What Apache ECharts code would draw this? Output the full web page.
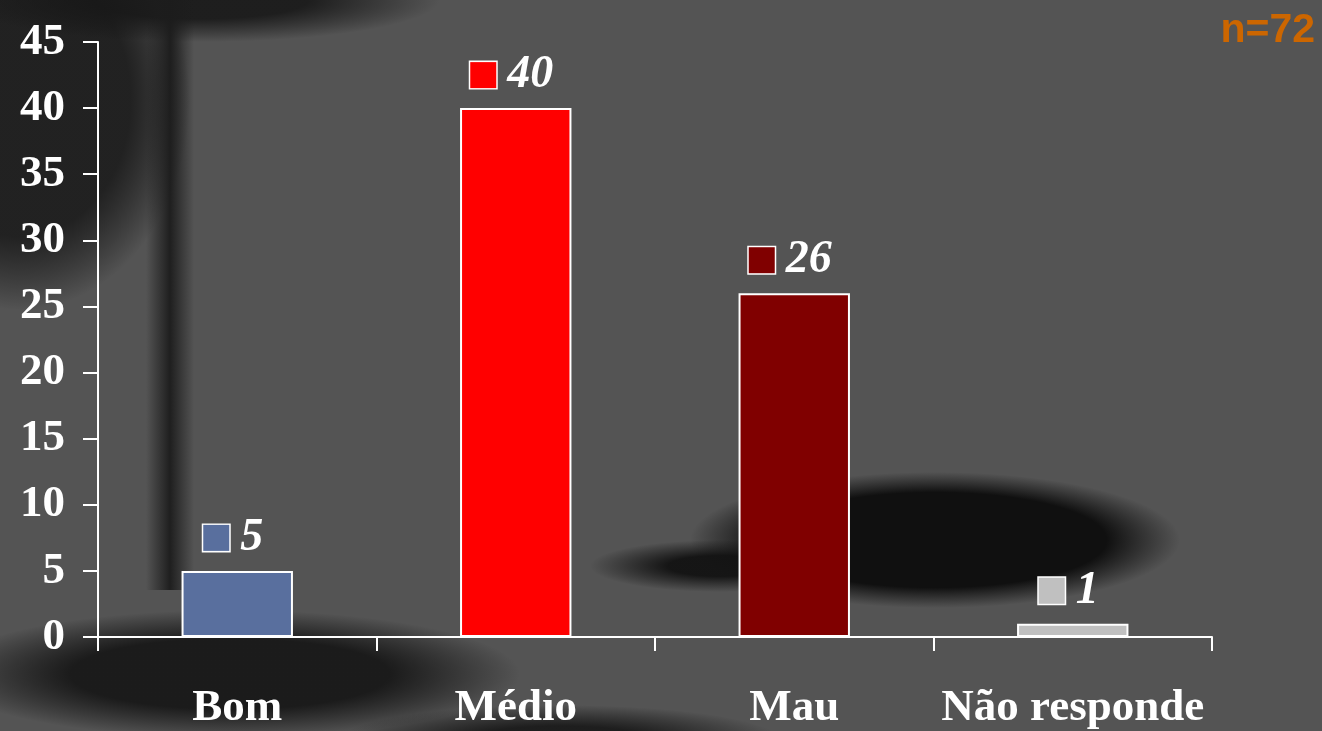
<!DOCTYPE html>
<html>
<head>
<meta charset="utf-8">
<script src="https://cdn.jsdelivr.net/npm/echarts@6/dist/echarts.min.js"></script>
<style>
html,body{margin:0;padding:0;background:#545454;}
#chart{width:1322px;height:731px;}
</style>
</head>
<body>
<div id="chart"></div>
<script>
const categories = ['Bom', 'Médio', 'Mau', 'Não responde'];
const values = [5, 40, 26, 1];
const barColors = ['#596F9E', '#FF0000', '#800000', '#C0C0C0'];
const yTicks = [0, 5, 10, 15, 20, 25, 30, 35, 40, 45];
const sampleNote = 'n=72';

const chart = echarts.init(document.getElementById('chart'));

const rich = {
  v: { fontFamily: 'Liberation Serif', fontSize: 46, fontWeight: 'bold', fontStyle: 'italic', color: '#fff', padding: [0, 0, 0, 11] }
};
barColors.forEach((c, i) => {
  rich['sq' + i] = { width: 26, height: 26, backgroundColor: c, borderColor: '#fff', borderWidth: 1.5 };
});

// soft background shadows (decorative photo backdrop)
function blob(cx, cy, rx, ry, color, solid) {
  return {
    type: 'circle', silent: true, z: -10,
    x: cx, y: cy, scaleX: rx / 100, scaleY: ry / 100,
    shape: { cx: 0, cy: 0, r: 100 },
    style: {
      fill: {
        type: 'radial', x: 0.5, y: 0.5, r: 0.5,
        colorStops: [
          { offset: 0, color: color },
          { offset: solid, color: color },
          { offset: 1, color: 'rgba(20,20,20,0)' }
        ]
      }
    }
  };
}

chart.setOption({
  backgroundColor: '#545454',
  animation: false,
  graphic: [
    blob(20, 100, 170, 210, 'rgba(32,32,32,0.97)', 0.65),
    blob(200, 0, 240, 42, 'rgba(24,24,24,0.9)', 0.45),
    {
      type: 'rect', silent: true, z: -10,
      shape: { x: 146, y: 0, width: 48, height: 590 },
      style: {
        fill: {
          type: 'linear', x: 0, y: 0, x2: 1, y2: 0,
          colorStops: [
            { offset: 0, color: 'rgba(28,28,28,0)' },
            { offset: 0.5, color: 'rgba(28,28,28,0.95)' },
            { offset: 1, color: 'rgba(28,28,28,0)' }
          ]
        }
      }
    },
    blob(230, 674, 290, 64, 'rgba(24,24,24,0.95)', 0.55),
    blob(560, 740, 220, 35, 'rgba(24,24,24,0.9)', 0.4),
    blob(935, 540, 245, 68, 'rgba(16,16,16,1)', 0.7),
    blob(720, 566, 130, 26, 'rgba(18,18,18,0.95)', 0.4),
    {
      type: 'text', right: 7, top: 10, z: 10,
      style: { text: sampleNote, fill: '#CC6600', font: 'bold 41px "Liberation Sans", Arial, sans-serif' }
    }
  ],
  grid: { left: 98, right: 110, top: 42, bottom: 92, containLabel: false },
  xAxis: {
    type: 'category',
    data: categories,
    axisLine: { show: true, lineStyle: { color: '#fff', width: 2 } },
    axisTick: { show: true, inside: false, length: 14, lineStyle: { color: '#fff', width: 2 } },
    axisLabel: { color: '#fff', fontFamily: 'Liberation Serif', fontWeight: 'bold', fontSize: 45, margin: 49, interval: 0 }
  },
  yAxis: {
    type: 'value',
    min: 0, max: 45, interval: 5,
    axisLine: { show: true, lineStyle: { color: '#fff', width: 2 } },
    axisTick: { show: true, inside: false, length: 15, lineStyle: { color: '#fff', width: 2 } },
    axisLabel: {
      color: '#fff', fontFamily: 'Liberation Serif', fontWeight: 'bold', fontSize: 45, margin: 33,
      padding: [6, 0, 0, 0],
      formatter: v => yTicks.includes(v) ? String(v) : ''
    },
    splitLine: { show: false }
  },
  series: [{
    type: 'bar',
    barWidth: '40%',
    data: values.map((v, i) => ({ value: v, itemStyle: { color: barColors[i] } })),
    itemStyle: { borderColor: '#fff', borderWidth: 2 },
    label: {
      show: true,
      position: 'top',
      distance: 10,
      offset: [-4, 0],
      formatter: p => '{sq' + p.dataIndex + '|}{v|' + p.value + '}',
      rich: rich
    }
  }]
});
</script>
</body>
</html>
